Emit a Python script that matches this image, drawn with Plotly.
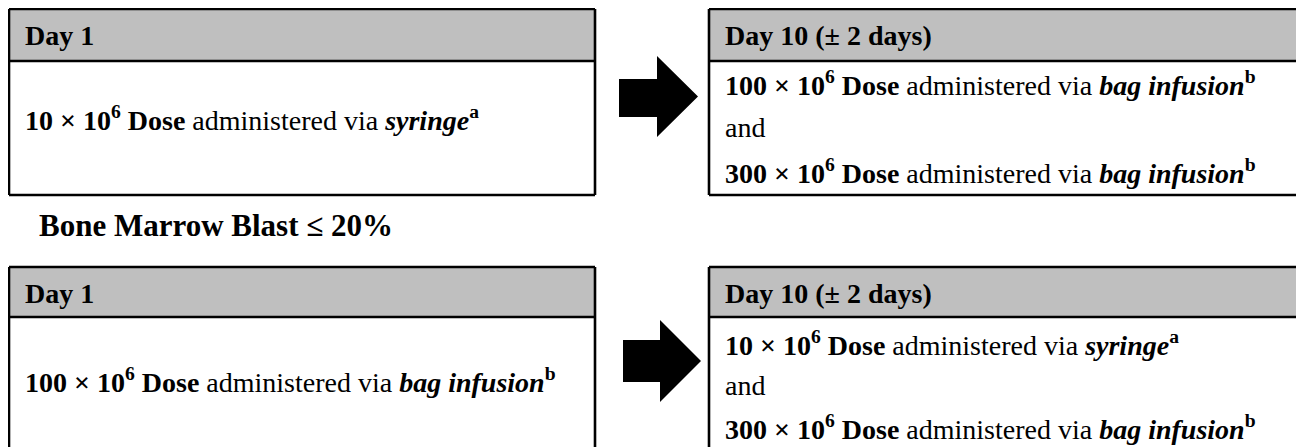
import plotly.graph_objects as go

# ---------------- content (data) ----------------
section_label = "Bone Marrow Blast ≤ 20%"
day_headers = ["Day 1", "Day 10 (± 2 days)"]
top_day1_doses = ["10"]
top_day10_doses = ["100", "300"]
bottom_day1_doses = ["100"]
bottom_day10_doses = ["10", "300"]
dose_routes = {"10": "syringe", "100": "bag infusion", "300": "bag infusion"}
route_notes = {"syringe": "a", "bag infusion": "b"}
joiner = "and"

# ---------------- geometry / style ----------------
W, H = 1304, 447
BODY_MARGIN = 8  # default page margin of the browser
FONT = "Liberation Serif"
FS = 28
GRAY = "#BFBFBF"
LW = 2.6


def dose_text(d):
    route = dose_routes[d]
    return (f"<b>{d} × 10<sup>6</sup> Dose</b> administered via "
            f"<b><i>{route}</i><sup>{route_notes[route]}</sup></b>")


fig = go.Figure()
shapes = []
annotations = []


def add_box(x0, x1, y0, yh, y1):
    shapes.append(dict(type="rect", x0=x0, x1=x1, y0=y0, y1=yh,
                       fillcolor=GRAY, line=dict(width=0), layer="below"))
    for (a, b, c, d) in [(x0, y0, x1, y0), (x0, yh, x1, yh), (x0, y0, x0, y1),
                         (x1, y0, x1, y1), (x0, y1, x1, y1)]:
        shapes.append(dict(type="line", x0=a, y0=b, x1=c, y1=d,
                           line=dict(color="black", width=LW)))


def add_arrow(xs0, xh, xt, ys0, ys1, yh0, yh1):
    ym = (yh0 + yh1) / 2
    path = (f"M {xs0},{ys0} L {xh},{ys0} L {xh},{yh0} L {xt},{ym} "
            f"L {xh},{yh1} L {xh},{ys1} L {xs0},{ys1} Z")
    shapes.append(dict(type="path", path=path, fillcolor="black",
                       line=dict(color="black", width=0)))


def add_text(x, y, txt, size=FS):
    annotations.append(dict(x=x, y=y, xref="x", yref="y", text=txt,
                            showarrow=False, xanchor="left", yanchor="middle",
                            font=dict(family=FONT, size=size, color="black")))


def add_lines(x, ys, doses):
    items = []
    for i, d in enumerate(doses):
        if i > 0:
            items.append(joiner)
        items.append(dose_text(d))
    for y, t in zip(ys, items):
        add_text(x, y, t)


# top row
add_box(9, 595, 9, 61, 195)
add_box(709, 1320, 9, 61, 195)
add_text(23, 35, f"<b>{day_headers[0]}</b>")
add_text(723, 35, f"<b>{day_headers[1]}</b>")
add_lines(23, [118], top_day1_doses)
add_lines(723, [83, 127, 171], top_day10_doses)
add_arrow(619, 657, 698, 79, 117, 56, 137)

# section label
add_text(37, 225, f"<b>{section_label}</b>", size=31)

# bottom row
add_box(9, 595, 267, 317, 470)
add_box(709, 1320, 267, 317, 470)
add_text(23, 293, f"<b>{day_headers[0]}</b>")
add_text(723, 293, f"<b>{day_headers[1]}</b>")
add_lines(23, [380], bottom_day1_doses)
add_lines(723, [343, 385, 427], bottom_day10_doses)
add_arrow(623, 660, 701, 340, 382, 320, 402)

m = BODY_MARGIN
fig.update_layout(
    width=W - m, height=H - m,
    margin=dict(l=0, r=0, t=0, b=0, pad=0),
    paper_bgcolor="white", plot_bgcolor="white",
    xaxis=dict(range=[m, W], visible=False, fixedrange=True),
    yaxis=dict(range=[H, m], visible=False, fixedrange=True),
    shapes=shapes, annotations=annotations, showlegend=False,
)
fig.write_html("out.html")
